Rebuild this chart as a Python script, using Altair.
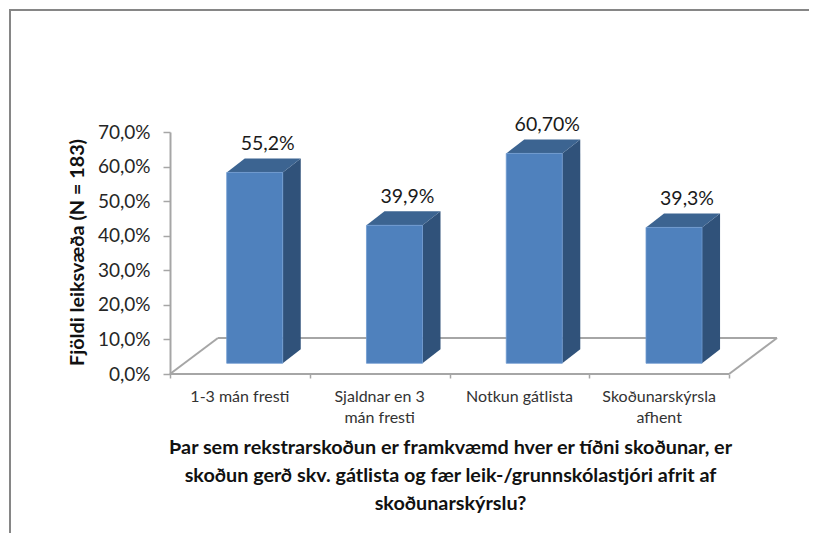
import altair as alt
import pandas as pd

categories = ["1-3 mán fresti", "Sjaldnar en 3\nmán fresti", "Notkun gátlista", "Skoðunarskýrsla\nafhent"]
values = [55.2, 39.9, 60.7, 39.3]
value_labels = ["55,2%", "39,9%", "60,70%", "39,3%"]
x_title = ["Þar sem rekstrarskoðun er framkvæmd hver er tíðni skoðunar, er",
           "skoðun gerð skv. gátlista og fær leik-/grunnskólastjóri afrit af",
           "skoðunarskýrslu?"]
y_title = "Fjöldi leiksvæða (N = 183)"
y_ticks = [0, 10, 20, 30, 40, 50, 60, 70]

# 3-D geometry, in data units of the two scales
W, H = 608, 242
X_MAX = 4.35
FLOOR_DX, FLOOR_DY = 0.343, 10.4
BAR_OFF, BAR_W = 0.4057, 0.4007
BAR_BASE = 3.1
BAR_DX, BAR_DY = 0.129, 4.05

FONT = "Lato"
FRONT, SIDE, TOP = "#4F81BD", "#30527A", "#3C6491"
GRAY = "#A6A6A6"

x_scale = alt.Scale(domain=[0, X_MAX], nice=False, zero=False)
y_scale = alt.Scale(domain=[0, 70], nice=False, zero=False)

x_axis = alt.Axis(
    values=[0, 1, 2, 3, 4], labels=False, grid=False, domain=False,
    tickColor=GRAY, tickWidth=1.5, tickSize=4,
    title=x_title, titleFont=FONT, titleFontSize=19.8, titleFontWeight="bold",
    titleColor="#111111", titleX=280, titleY=79, titleLineHeight=28,
    titleAlign="center", titleBaseline="alphabetic")
y_axis = alt.Axis(
    values=y_ticks, grid=False, domainColor=GRAY, domainWidth=2,
    tickColor=GRAY, tickWidth=1.5, tickSize=7,
    labelFont=FONT, labelFontSize=19, labelColor="#262626", labelPadding=13,
    labelExpr="replace(format(datum.value, '.1f'), '.', ',') + '%'",
    title=y_title, titleFont=FONT, titleFontSize=19.8, titleFontWeight="bold",
    titleColor="#111111", titleX=-93, titleY=120, titleAngle=270,
    titleAlign="center", titleBaseline="middle")

X = lambda f="x": alt.X(f"{f}:Q", scale=x_scale, axis=x_axis)
Y = lambda f="y": alt.Y(f"{f}:Q", scale=y_scale, axis=y_axis)

front = pd.DataFrame([
    {"x": i + BAR_OFF, "x2": i + BAR_OFF + BAR_W, "y": BAR_BASE, "y2": BAR_BASE + v}
    for i, v in enumerate(values)])

side_rows, top_rows = [], []
for i, v in enumerate(values):
    l = i + BAR_OFF
    r = l + BAR_W
    t = BAR_BASE + v
    side_rows += [
        {"bar": i, "x": r, "y": BAR_BASE, "y2": t},
        {"bar": i, "x": r + BAR_DX, "y": BAR_BASE + BAR_DY, "y2": t + BAR_DY}]
    top_rows += [
        {"bar": i, "x": l, "y": t, "y2": t},
        {"bar": i, "x": l + BAR_DX, "y": t, "y2": t + BAR_DY},
        {"bar": i, "x": r, "y": t, "y2": t + BAR_DY},
        {"bar": i, "x": r + BAR_DX, "y": t + BAR_DY, "y2": t + BAR_DY}]

floor = pd.DataFrame([
    {"e": "front", "x": 0, "y": 0}, {"e": "front", "x": 4, "y": 0},
    {"e": "back", "x": FLOOR_DX, "y": FLOOR_DY}, {"e": "back", "x": 4 + FLOOR_DX, "y": FLOOR_DY},
    {"e": "left", "x": 0, "y": 0}, {"e": "left", "x": FLOOR_DX, "y": FLOOR_DY},
    {"e": "right", "x": 4, "y": 0}, {"e": "right", "x": 4 + FLOOR_DX, "y": FLOOR_DY}])

labels = pd.DataFrame({
    "x": [i + BAR_OFF + BAR_W / 2 for i in range(4)],
    "y": [BAR_BASE + v + BAR_DY for v in values],
    "t": value_labels})
cats = pd.DataFrame({"x": [i + 0.5 for i in range(4)], "c": categories})

floor_layer = alt.Chart(floor).mark_line(color=GRAY, strokeWidth=2).encode(
    x=X(), y=Y(), detail="e:N")

side_layer = alt.Chart(pd.DataFrame(side_rows)).mark_area(color=SIDE, orient="vertical").encode(
    x=X(), y=Y(), y2="y2:Q", detail="bar:N")
top_layer = alt.Chart(pd.DataFrame(top_rows)).mark_area(color=TOP, orient="vertical").encode(
    x=X(), y=Y(), y2="y2:Q", detail="bar:N")
front_layer = alt.Chart(front).mark_rect(color=FRONT, stroke="#6E9AD0", strokeWidth=0.8).encode(
    x=X(), x2="x2:Q", y=Y(), y2="y2:Q")

value_text = alt.Chart(labels).mark_text(
    font=FONT, fontSize=19.5, color="#1A1A1A", dx=13, dy=-14, baseline="middle").encode(
    x=X(), y=Y(), text="t:N")

cat_text = alt.Chart(cats).mark_text(
    font=FONT, fontSize=16, color="#333333", lineBreak="\n", lineHeight=21, baseline="middle").encode(
    x=X(), y=alt.value(H + 23), text="c:N")

frame_left = alt.Chart(pd.DataFrame({"a": [0]})).mark_rule(color="#868686", strokeWidth=2).encode(
    x=alt.value(-160), y=alt.value(-123), y2=alt.value(H + 159))
frame_top = alt.Chart(pd.DataFrame({"a": [0]})).mark_rule(color="#868686", strokeWidth=2).encode(
    x=alt.value(-161), x2=alt.value(W + 31), y=alt.value(-122))

chart = alt.layer(
    floor_layer, side_layer, top_layer, front_layer, value_text, cat_text, frame_left, frame_top
).properties(
    width=W, height=H,
    autosize=alt.AutoSizeParams(type="none"),
    padding={"left": 162, "top": 124, "right": 31, "bottom": 159},
).configure_view(stroke=None)

chart.save("out.html", embed_options={"renderer": "svg", "actions": False})
